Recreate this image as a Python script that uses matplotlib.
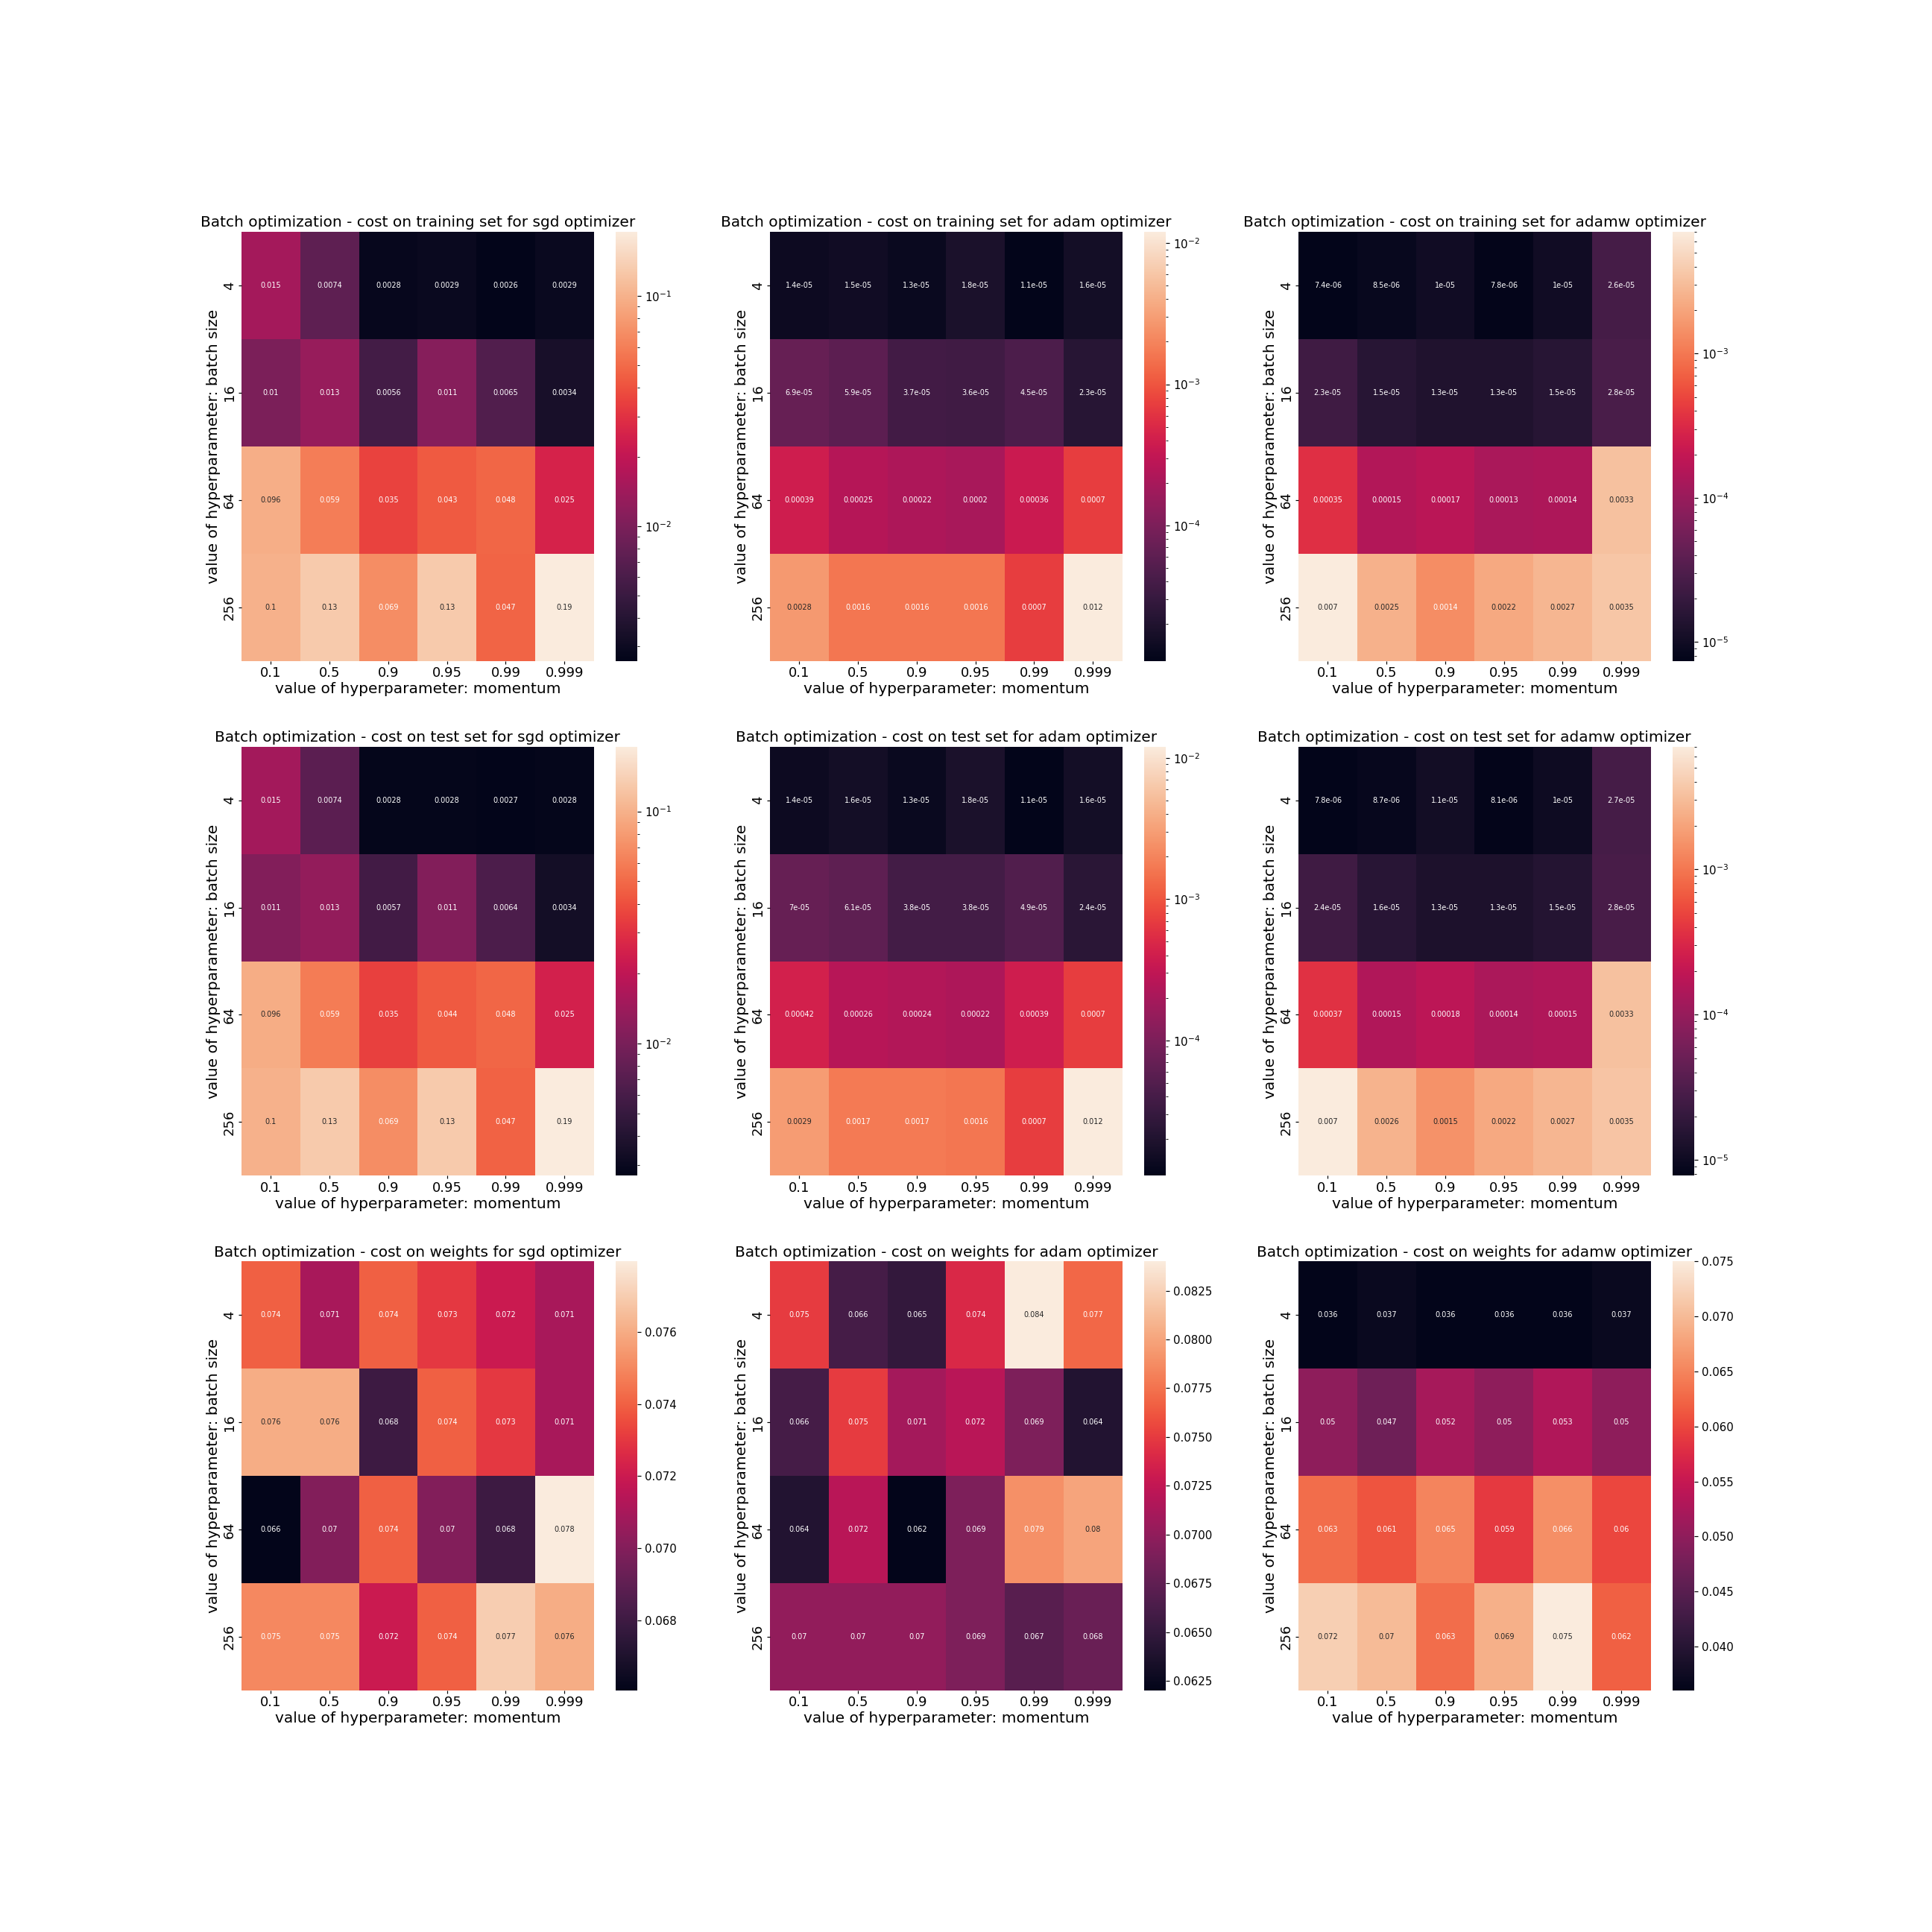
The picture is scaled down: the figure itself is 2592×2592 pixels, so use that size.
"""
Batch size / momentum grid search heatmaps (sgd, adam, adamw)
"""

import matplotlib
matplotlib.use("Agg")
import matplotlib.pyplot as plt
from matplotlib.colors import LogNorm
import seaborn as sns
import numpy as np

batch_sizes = [4, 16, 64, 256]
momentums = [0.1, 0.5, 0.9, 0.95, 0.99, 0.999]
optimizers = ["sgd", "adam", "adamw"]

# cost on training set
sgd_train = [[0.015, 0.0074, 0.0028, 0.0029, 0.0026, 0.0029],
             [0.01, 0.013, 0.0056, 0.011, 0.0065, 0.0034],
             [0.096, 0.059, 0.035, 0.043, 0.048, 0.025],
             [0.1, 0.13, 0.069, 0.13, 0.047, 0.19]]
adam_train = [[1.4e-05, 1.5e-05, 1.3e-05, 1.8e-05, 1.1e-05, 1.6e-05],
              [6.9e-05, 5.9e-05, 3.7e-05, 3.6e-05, 4.5e-05, 2.3e-05],
              [0.00039, 0.00025, 0.00022, 0.0002, 0.00036, 0.0007],
              [0.0028, 0.0016, 0.0016, 0.0016, 0.0007, 0.012]]
adamw_train = [[7.4e-06, 8.5e-06, 1e-05, 7.8e-06, 1e-05, 2.6e-05],
               [2.3e-05, 1.5e-05, 1.3e-05, 1.3e-05, 1.5e-05, 2.8e-05],
               [0.00035, 0.00015, 0.00017, 0.00013, 0.00014, 0.0033],
               [0.007, 0.0025, 0.0014, 0.0022, 0.0027, 0.0035]]

# cost on test set
sgd_test = [[0.015, 0.0074, 0.0028, 0.0028, 0.0027, 0.0028],
            [0.011, 0.013, 0.0057, 0.011, 0.0064, 0.0034],
            [0.096, 0.059, 0.035, 0.044, 0.048, 0.025],
            [0.1, 0.13, 0.069, 0.13, 0.047, 0.19]]
adam_test = [[1.4e-05, 1.6e-05, 1.3e-05, 1.8e-05, 1.1e-05, 1.6e-05],
             [7e-05, 6.1e-05, 3.8e-05, 3.8e-05, 4.9e-05, 2.4e-05],
             [0.00042, 0.00026, 0.00024, 0.00022, 0.00039, 0.0007],
             [0.0029, 0.0017, 0.0017, 0.0016, 0.0007, 0.012]]
adamw_test = [[7.8e-06, 8.7e-06, 1.1e-05, 8.1e-06, 1e-05, 2.7e-05],
              [2.4e-05, 1.6e-05, 1.3e-05, 1.3e-05, 1.5e-05, 2.8e-05],
              [0.00037, 0.00015, 0.00018, 0.00014, 0.00015, 0.0033],
              [0.007, 0.0026, 0.0015, 0.0022, 0.0027, 0.0035]]

# cost on weights (extremes of sgd, shown rounded)
sgd_weights = [[0.074, 0.071, 0.074, 0.073, 0.072, 0.071],
               [0.076, 0.076, 0.068, 0.074, 0.073, 0.071],
               [0.06606, 0.07, 0.074, 0.07, 0.068, 0.07795],
               [0.075, 0.075, 0.072, 0.074, 0.077, 0.076]]
adam_weights = [[0.075, 0.066, 0.065, 0.074, 0.084, 0.077],
                [0.066, 0.075, 0.071, 0.072, 0.069, 0.064],
                [0.064, 0.072, 0.062, 0.069, 0.079, 0.08],
                [0.07, 0.07, 0.07, 0.069, 0.067, 0.068]]
adamw_weights = [[0.036, 0.037, 0.036, 0.036, 0.036, 0.037],
                 [0.05, 0.047, 0.052, 0.05, 0.053, 0.05],
                 [0.063, 0.061, 0.065, 0.059, 0.066, 0.06],
                 [0.072, 0.07, 0.063, 0.069, 0.075, 0.062]]

rows = [("training set", [sgd_train, adam_train, adamw_train], True),
        ("test set", [sgd_test, adam_test, adamw_test], True),
        ("weights", [sgd_weights, adam_weights, adamw_weights], False)]

fig, axes = plt.subplots(3, 3, figsize=(24, 24), dpi=108)
fig.subplots_adjust(bottom=0.125)
for r, (what, grids, logscale) in enumerate(rows):
    for c, opt in enumerate(optimizers):
        ax = axes[r, c]
        data = np.array(grids[c])
        norm = LogNorm(vmin=data.min(), vmax=data.max()) if logscale else None
        sns.heatmap(data, ax=ax, annot=True, norm=norm,
                    xticklabels=momentums, yticklabels=batch_sizes,
                    annot_kws={"size": 6.5})
        ax.set_title(f"Batch optimization - cost on {what} for {opt} optimizer",
                     fontsize=13.4, pad=4.5)
        ax.set_xlabel("value of hyperparameter: momentum", fontsize=13.4, labelpad=2)
        ax.set_ylabel("value of hyperparameter: batch size", fontsize=13.4, labelpad=2)
        ax.tick_params(labelsize=12, length=2.4, pad=2.4)

plt.savefig("out.png")
